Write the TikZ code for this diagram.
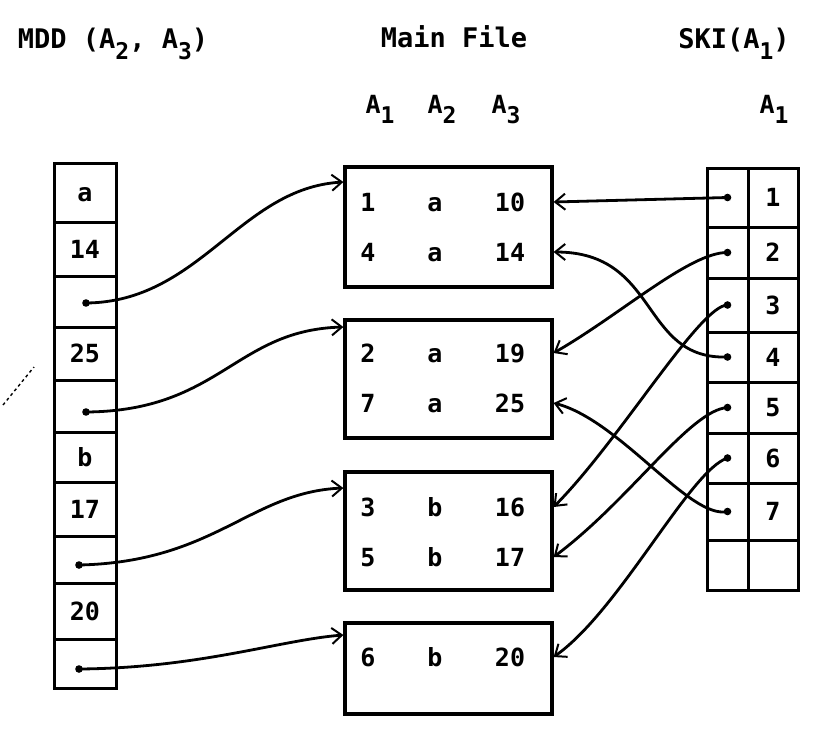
\documentclass[tikz,border=0pt]{standalone}
\usepackage{fontspec}
\setmonofont{DejaVu Sans Mono}
\usetikzlibrary{arrows.meta}
\newcommand{\subx}[1]{\raisebox{-0.42em}{\fontsize{23}{23}\selectfont #1}}
\begin{document}
\begin{tikzpicture}[x=1pt,y=-1pt,
  txt/.style={font=\ttfamily\bfseries\fontsize{25}{25}\selectfont, inner sep=0pt, text height=18pt, text depth=0pt},
  head/.style={txt, font=\ttfamily\bfseries\fontsize{27}{27}\selectfont},
  cellbox/.style={draw, line width=3pt, inner sep=0pt, txt},
  mcell/.style={cellbox, minimum width=62pt},
  scell/.style={cellbox, minimum width=41pt},
  vcell/.style={cellbox, minimum width=50pt},
  mbox/.style={draw, line width=3.2pt, minimum width=207pt, inner sep=0pt},
  conn/.style={line width=2.8pt, -{Straight Barb[length=10pt,width=16pt,line width=2pt]}},
]
\useasboundingbox (0,0) rectangle (814,732);

% headers
\node[head] (hm) at (113,39) {MDD (A\subx{2}, A\subx{3})};
\node[head] (hf) at (454,38) {Main File};
\node[head] (hs) at (734,39) {SKI(A\subx{1})};
\node[txt] (ha1) at (380,104) {A\subx{1}};
\node[txt] (ha2) at (442,104) {A\subx{2}};
\node[txt] (ha3) at (506,104) {A\subx{3}};
\node[txt] (hsa) at (774,104) {A\subx{1}};

% MDD column
\node[mcell, minimum height=59pt] (m1) at (85,192.5) {a};
\node[mcell, minimum height=54pt] (m2) at (85,249) {14};
\node[mcell, minimum height=51pt] (m3) at (85,301.5) {};
\node[mcell, minimum height=53pt] (m4) at (85,353.5) {25};
\node[mcell, minimum height=52pt] (m5) at (85,406) {};
\node[mcell, minimum height=50pt] (m6) at (85,457) {b};
\node[mcell, minimum height=54pt] (m7) at (85,509) {17};
\node[mcell, minimum height=47pt] (m8) at (85,559.5) {};
\node[mcell, minimum height=56pt] (m9) at (85,611) {20};
\node[mcell, minimum height=49pt] (m10) at (85,663.5) {};

% Main file boxes
\node[mbox, minimum height=120pt] (b1) at (448.5,227) {};
\node[mbox, minimum height=118pt] (b2) at (448.5,379) {};
\node[mbox, minimum height=118pt] (b3) at (448.5,531) {};
\node[mbox, minimum height=91pt] (b4) at (448.5,668.5) {};

\node[txt] (t11) at (368,202) {1};
\node[txt] (t12) at (435,202) {a};
\node[txt] (t13) at (510,202) {10};
\node[txt] (t21) at (368,252) {4};
\node[txt] (t22) at (435,252) {a};
\node[txt] (t23) at (510,252) {14};
\node[txt] (t31) at (368,353) {2};
\node[txt] (t32) at (435,353) {a};
\node[txt] (t33) at (510,353) {19};
\node[txt] (t41) at (368,403) {7};
\node[txt] (t42) at (435,403) {a};
\node[txt] (t43) at (510,403) {25};
\node[txt] (t51) at (368,507) {3};
\node[txt] (t52) at (435,507) {b};
\node[txt] (t53) at (510,507) {16};
\node[txt] (t61) at (368,557) {5};
\node[txt] (t62) at (435,557) {b};
\node[txt] (t63) at (510,557) {17};
\node[txt] (t71) at (368,657) {6};
\node[txt] (t72) at (435,657) {b};
\node[txt] (t73) at (510,657) {20};

% SKI column
\node[scell, minimum height=59pt] (s1) at (727.5,197.5) {};
\node[scell, minimum height=51pt] (s2) at (727.5,252.5) {};
\node[scell, minimum height=54pt] (s3) at (727.5,305) {};
\node[scell, minimum height=50pt] (s4) at (727.5,357) {};
\node[scell, minimum height=51pt] (s5) at (727.5,407.5) {};
\node[scell, minimum height=50pt] (s6) at (727.5,458) {};
\node[scell, minimum height=57pt] (s7) at (727.5,511.5) {};
\node[scell, minimum height=50pt] (s8) at (727.5,565) {};
\node[vcell, minimum height=59pt] (v1) at (773,197.5) {1};
\node[vcell, minimum height=51pt] (v2) at (773,252.5) {2};
\node[vcell, minimum height=54pt] (v3) at (773,305) {3};
\node[vcell, minimum height=50pt] (v4) at (773,357) {4};
\node[vcell, minimum height=51pt] (v5) at (773,407.5) {5};
\node[vcell, minimum height=50pt] (v6) at (773,458) {6};
\node[vcell, minimum height=57pt] (v7) at (773,511.5) {7};
\node[vcell, minimum height=50pt] (v8) at (773,565) {};

% pointer start points
\coordinate (p1) at (86,303);
\coordinate (p2) at (86,412);
\coordinate (p3) at (79,565);
\coordinate (p4) at (79,669);
\foreach \p in {p1,p2,p3,p4} \fill (\p) circle (3.8pt);
\foreach \s in {s1,s2,s3,s4,s5,s6,s7} \fill (\s.center) circle (3.8pt);

% arrow entry points on main boxes (left side)
\coordinate (i1) at (b1.west |- 0,182);
\coordinate (i2) at (b2.west |- 0,327);
\coordinate (i3) at (b3.west |- 0,488);
\coordinate (i4) at (b4.west |- 0,635);

% arrow entry points (right side)
\coordinate (e1) at (b1.east |- t13);
\coordinate (e2) at (b1.east |- t23);
\coordinate (e3) at (b2.east |- t33);
\coordinate (e4) at (b2.east |- t43);
\coordinate (e5) at (b3.east |- t53);
\coordinate (e6) at (b3.east |- t63);
\coordinate (e7) at (b4.east |- t73);

% MDD pointers to main file
\draw[conn] (p1) .. controls (200,302) and (240,188) .. (i1);
\draw[conn] (p2) .. controls (220,411) and (235,330) .. (i2);
\draw[conn] (p3) .. controls (215,562) and (250,492) .. (i3);
\draw[conn] (p4) .. controls (200,668) and (280,640) .. (i4);

% SKI pointers to main file
\draw[conn] (s1.center) -- (e1);
\draw[conn] (s4.center) .. controls (640,360) and (660,252) .. (e2);
\draw[conn] (s2.center) .. controls (690,252) and (620,315) .. (e3);
\draw[conn] (s7.center) .. controls (690,520) and (620,420) .. (e4);
\draw[conn] (s3.center) .. controls (700,305) and (620,440) .. (e5);
\draw[conn] (s5.center) .. controls (690,410) and (630,500) .. (e6);
\draw[conn] (s6.center) .. controls (690,470) and (620,610) .. (e7);

% stray dashed stroke
\coordinate (d1) at (3,405);
\coordinate (d2) at (34,367);
\draw[line width=1.4pt, dash pattern=on 3pt off 3pt] (d1) -- (d2);
\end{tikzpicture}
\end{document}
